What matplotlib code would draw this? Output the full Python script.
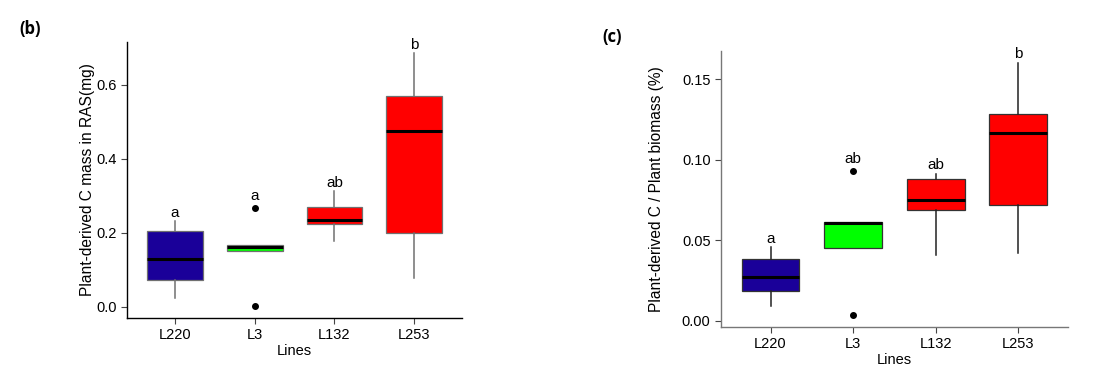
import matplotlib
matplotlib.use('Agg')
import matplotlib.pyplot as plt

plt.rcParams['font.family'] = ['Liberation Sans', 'DejaVu Sans']

# Kategorier og farver
lines = ['L220', 'L3', 'L132', 'L253']
box_colors = ['#1a0099', '#00ff00', '#ff0000', '#ff0000']

# (b) Plant-derived C mass in RAS (mg) - boksstatistik
b_whislo = [0.024, 0.152, 0.177, 0.079]
b_q1 = [0.074, 0.152, 0.2235, 0.199]
b_med = [0.130, 0.162, 0.235, 0.475]
b_q3 = [0.2045, 0.167, 0.270, 0.570]
b_whishi = [0.2315, 0.167, 0.3135, 0.685]
b_fliers = [[], [0.267, 0.003], [], []]
b_letters = ['a', 'a', 'ab', 'b']

# (c) Plant-derived C / Plant biomass (%)
c_whislo = [0.0091, 0.045, 0.0406, 0.042]
c_q1 = [0.0184, 0.045, 0.069, 0.0719]
c_med = [0.0269, 0.0605, 0.0748, 0.1168]
c_q3 = [0.0385, 0.0615, 0.088, 0.1284]
c_whishi = [0.0458, 0.0615, 0.0914, 0.1603]
c_fliers = [[], [0.0928, 0.0037], [], []]
c_letters = ['a', 'ab', 'ab', 'b']


def draw_panel(ax, whislo, q1, med, q3, whishi, fliers, letters,
               ylabel, yticks, ylim, edge, whisk, spine, ypad):
    stats = []
    for i in range(len(lines)):
        stats.append(dict(whislo=whislo[i], q1=q1[i], med=med[i], q3=q3[i],
                          whishi=whishi[i], fliers=fliers[i], label=lines[i]))
    pos = list(range(1, len(lines) + 1))
    bp = ax.bxp(stats, positions=pos, widths=0.7, patch_artist=True,
                showcaps=False,
                boxprops=dict(edgecolor=edge, linewidth=0.9),
                whiskerprops=dict(color=whisk, linewidth=1.1),
                medianprops=dict(color='black', linewidth=2.2),
                flierprops=dict(marker='o', markerfacecolor='black',
                                markeredgecolor='black', markersize=4))
    for patch, col in zip(bp['boxes'], box_colors):
        patch.set_facecolor(col)

    # Signifikansbogstaver over hver boks
    for i in range(len(lines)):
        top = max([whishi[i]] + fliers[i])
        off = 9 if fliers[i] and max(fliers[i]) > whishi[i] else 6
        ax.annotate(letters[i], (pos[i], top), xytext=(0, off),
                    textcoords='offset points', ha='center', va='center',
                    fontsize=11)

    ax.set_xlim(0.4, 4.6)
    ax.set_ylim(*ylim)
    ax.set_yticks(yticks)
    ax.set_xticks(pos)
    ax.set_xticklabels(lines)
    ax.set_xlabel('Lines', fontsize=10.5, labelpad=1)
    ax.set_ylabel(ylabel, fontsize=11.2, labelpad=ypad)
    for s in ['top', 'right']:
        ax.spines[s].set_visible(False)
    for s in ['left', 'bottom']:
        ax.spines[s].set_color(spine)
        ax.spines[s].set_linewidth(1.0)
    ax.tick_params(axis='both', colors='#444444', labelcolor='black',
                   labelsize=10.5, length=4, width=0.8)


fig = plt.figure(figsize=(10.96, 3.8), dpi=100)

ax_b = fig.add_axes([0.1159, 0.1632, 0.3057, 0.7263])
draw_panel(ax_b, b_whislo, b_q1, b_med, b_q3, b_whishi, b_fliers, b_letters,
           'Plant-derived C mass in RAS(mg)', [0.0, 0.2, 0.4, 0.6],
           (-0.030, 0.716), '#707070', '#707070', 'black', 0.5)
ax_b.set_yticklabels(['0.0', '0.2', '0.4', '0.6'])

ax_c = fig.add_axes([0.6578, 0.1395, 0.3166, 0.7263])
draw_panel(ax_c, c_whislo, c_q1, c_med, c_q3, c_whishi, c_fliers, c_letters,
           'Plant-derived C / Plant biomass (%)', [0.0, 0.05, 0.10, 0.15],
           (-0.0039, 0.1676), '#333333', '#222222', '#777777', 13)
ax_c.set_yticklabels(['0.00', '0.05', '0.10', '0.15'])

fig.text(30 / 1096, 1 - 29 / 380, '(b)', ha='center', va='center',
         fontsize=12, fontweight='bold', family=['Open Sans', 'DejaVu Sans'])
fig.text(612 / 1096, 1 - 37 / 380, '(c)', ha='center', va='center',
         fontsize=12, fontweight='bold', family=['Open Sans', 'DejaVu Sans'])

fig.savefig('out.png', dpi=100)
